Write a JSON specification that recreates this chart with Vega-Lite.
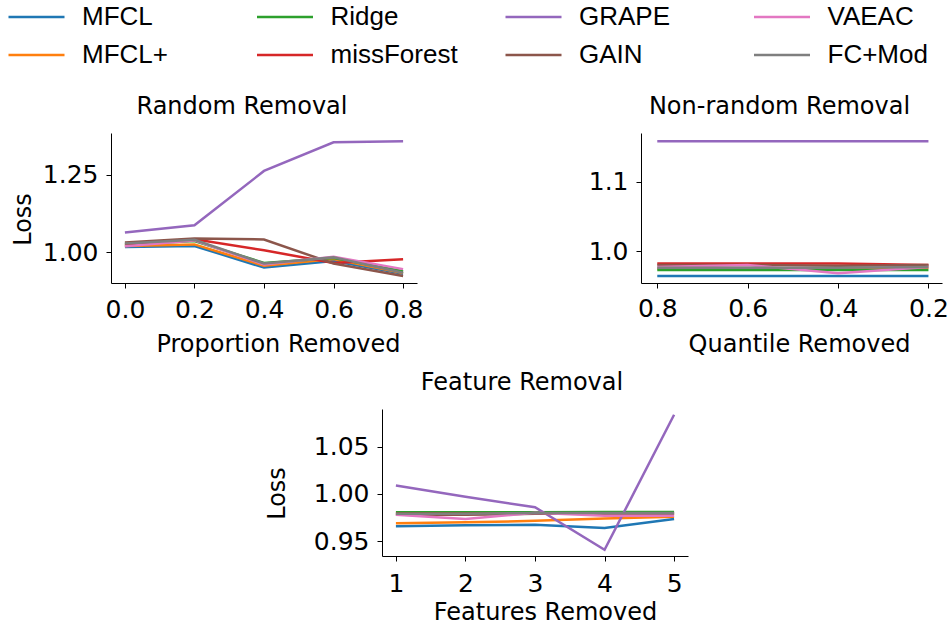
{
  "$schema": "https://vega.github.io/schema/vega-lite/v6.json",
  "padding": {"left": 7, "top": 4, "right": 0, "bottom": 0},
  "background": "white",
  "datasets": {
    "random": [
      {"method": "MFCL", "x": 0.0, "loss": 1.017}, {"method": "MFCL", "x": 0.2, "loss": 1.020}, {"method": "MFCL", "x": 0.4, "loss": 0.950}, {"method": "MFCL", "x": 0.6, "loss": 0.971}, {"method": "MFCL", "x": 0.8, "loss": 0.930},
      {"method": "MFCL+", "x": 0.0, "loss": 1.020}, {"method": "MFCL+", "x": 0.2, "loss": 1.025}, {"method": "MFCL+", "x": 0.4, "loss": 0.956}, {"method": "MFCL+", "x": 0.6, "loss": 0.978}, {"method": "MFCL+", "x": 0.8, "loss": 0.932},
      {"method": "Ridge", "x": 0.0, "loss": 1.025}, {"method": "Ridge", "x": 0.2, "loss": 1.036}, {"method": "Ridge", "x": 0.4, "loss": 0.965}, {"method": "Ridge", "x": 0.6, "loss": 0.981}, {"method": "Ridge", "x": 0.8, "loss": 0.938},
      {"method": "missForest", "x": 0.0, "loss": 1.024}, {"method": "missForest", "x": 0.2, "loss": 1.042}, {"method": "missForest", "x": 0.4, "loss": 1.006}, {"method": "missForest", "x": 0.6, "loss": 0.965}, {"method": "missForest", "x": 0.8, "loss": 0.977},
      {"method": "GRAPE", "x": 0.0, "loss": 1.064}, {"method": "GRAPE", "x": 0.2, "loss": 1.087}, {"method": "GRAPE", "x": 0.4, "loss": 1.263}, {"method": "GRAPE", "x": 0.6, "loss": 1.356}, {"method": "GRAPE", "x": 0.8, "loss": 1.359},
      {"method": "GAIN", "x": 0.0, "loss": 1.031}, {"method": "GAIN", "x": 0.2, "loss": 1.044}, {"method": "GAIN", "x": 0.4, "loss": 1.041}, {"method": "GAIN", "x": 0.6, "loss": 0.963}, {"method": "GAIN", "x": 0.8, "loss": 0.923},
      {"method": "VAEAC", "x": 0.0, "loss": 1.019}, {"method": "VAEAC", "x": 0.2, "loss": 1.038}, {"method": "VAEAC", "x": 0.4, "loss": 0.960}, {"method": "VAEAC", "x": 0.6, "loss": 0.985}, {"method": "VAEAC", "x": 0.8, "loss": 0.945},
      {"method": "FC+Mod", "x": 0.0, "loss": 1.028}, {"method": "FC+Mod", "x": 0.2, "loss": 1.040}, {"method": "FC+Mod", "x": 0.4, "loss": 0.963}, {"method": "FC+Mod", "x": 0.6, "loss": 0.983}, {"method": "FC+Mod", "x": 0.8, "loss": 0.933}
    ],
    "nonrandom": [
      {"method": "MFCL", "x": 0.8, "loss": 0.964}, {"method": "MFCL", "x": 0.6, "loss": 0.964}, {"method": "MFCL", "x": 0.4, "loss": 0.964}, {"method": "MFCL", "x": 0.2, "loss": 0.964},
      {"method": "MFCL+", "x": 0.8, "loss": 0.975}, {"method": "MFCL+", "x": 0.6, "loss": 0.975}, {"method": "MFCL+", "x": 0.4, "loss": 0.975}, {"method": "MFCL+", "x": 0.2, "loss": 0.976},
      {"method": "Ridge", "x": 0.8, "loss": 0.9726}, {"method": "Ridge", "x": 0.6, "loss": 0.9726}, {"method": "Ridge", "x": 0.4, "loss": 0.9726}, {"method": "Ridge", "x": 0.2, "loss": 0.9726},
      {"method": "missForest", "x": 0.8, "loss": 0.982}, {"method": "missForest", "x": 0.6, "loss": 0.982}, {"method": "missForest", "x": 0.4, "loss": 0.982}, {"method": "missForest", "x": 0.2, "loss": 0.980},
      {"method": "GRAPE", "x": 0.8, "loss": 1.158}, {"method": "GRAPE", "x": 0.6, "loss": 1.158}, {"method": "GRAPE", "x": 0.4, "loss": 1.158}, {"method": "GRAPE", "x": 0.2, "loss": 1.158},
      {"method": "GAIN", "x": 0.8, "loss": 0.980}, {"method": "GAIN", "x": 0.6, "loss": 0.980}, {"method": "GAIN", "x": 0.4, "loss": 0.979}, {"method": "GAIN", "x": 0.2, "loss": 0.980},
      {"method": "VAEAC", "x": 0.8, "loss": 0.977}, {"method": "VAEAC", "x": 0.6, "loss": 0.980}, {"method": "VAEAC", "x": 0.4, "loss": 0.968}, {"method": "VAEAC", "x": 0.2, "loss": 0.977},
      {"method": "FC+Mod", "x": 0.8, "loss": 0.976}, {"method": "FC+Mod", "x": 0.6, "loss": 0.976}, {"method": "FC+Mod", "x": 0.4, "loss": 0.976}, {"method": "FC+Mod", "x": 0.2, "loss": 0.977}
    ],
    "feature": [
      {"method": "MFCL", "x": 1, "loss": 0.966}, {"method": "MFCL", "x": 2, "loss": 0.967}, {"method": "MFCL", "x": 3, "loss": 0.9675}, {"method": "MFCL", "x": 4, "loss": 0.964}, {"method": "MFCL", "x": 5, "loss": 0.9736},
      {"method": "MFCL+", "x": 1, "loss": 0.969}, {"method": "MFCL+", "x": 2, "loss": 0.970}, {"method": "MFCL+", "x": 3, "loss": 0.9716}, {"method": "MFCL+", "x": 4, "loss": 0.974}, {"method": "MFCL+", "x": 5, "loss": 0.976},
      {"method": "Ridge", "x": 1, "loss": 0.9807}, {"method": "Ridge", "x": 2, "loss": 0.9807}, {"method": "Ridge", "x": 3, "loss": 0.9807}, {"method": "Ridge", "x": 4, "loss": 0.981}, {"method": "Ridge", "x": 5, "loss": 0.981},
      {"method": "missForest", "x": 1, "loss": 0.979}, {"method": "missForest", "x": 2, "loss": 0.979}, {"method": "missForest", "x": 3, "loss": 0.979}, {"method": "missForest", "x": 4, "loss": 0.979}, {"method": "missForest", "x": 5, "loss": 0.979},
      {"method": "GRAPE", "x": 1, "loss": 1.0088}, {"method": "GRAPE", "x": 2, "loss": 0.997}, {"method": "GRAPE", "x": 3, "loss": 0.986}, {"method": "GRAPE", "x": 4, "loss": 0.941}, {"method": "GRAPE", "x": 5, "loss": 1.0835},
      {"method": "GAIN", "x": 1, "loss": 0.978}, {"method": "GAIN", "x": 2, "loss": 0.978}, {"method": "GAIN", "x": 3, "loss": 0.979}, {"method": "GAIN", "x": 4, "loss": 0.979}, {"method": "GAIN", "x": 5, "loss": 0.979},
      {"method": "VAEAC", "x": 1, "loss": 0.978}, {"method": "VAEAC", "x": 2, "loss": 0.9736}, {"method": "VAEAC", "x": 3, "loss": 0.980}, {"method": "VAEAC", "x": 4, "loss": 0.977}, {"method": "VAEAC", "x": 5, "loss": 0.977},
      {"method": "FC+Mod", "x": 1, "loss": 0.979}, {"method": "FC+Mod", "x": 2, "loss": 0.979}, {"method": "FC+Mod", "x": 3, "loss": 0.980}, {"method": "FC+Mod", "x": 4, "loss": 0.980}, {"method": "FC+Mod", "x": 5, "loss": 0.980}
    ]
  },
  "config": {
    "view": {"stroke": null},
    "font": "DejaVu Sans",
    "axis": {
      "grid": false,
      "domainColor": "#000000",
      "domainWidth": 1,
      "tickColor": "#000000",
      "tickWidth": 1,
      "tickSize": 5,
      "labelColor": "#000000",
      "labelFont": "DejaVu Sans",
      "labelFontSize": 25,
      "titleColor": "#000000",
      "titleFont": "DejaVu Sans",
      "titleFontSize": 24,
      "titleFontWeight": "normal"
    },
    "axisY": {"labelPadding": 8},
    "title": {"font": "DejaVu Sans", "fontSize": 24, "fontWeight": "normal", "color": "#000000", "frame": "group", "baseline": "alphabetic", "offset": 14},
    "line": {"strokeWidth": 2.5}
  },
  "bounds": "flush",
  "spacing": 276,
  "vconcat": [
    {
      "bounds": "flush",
      "spacing": 224,
      "hconcat": [
        {
          "data": {"name": "random"},
          "width": 306,
          "height": 150,
          "title": {"text": "Random Removal", "dx": -22},
          "mark": {"type": "line"},
          "encoding": {
            "x": {"field": "x", "type": "quantitative",
              "scale": {"domain": [-0.04, 0.84], "nice": false, "zero": false},
              "axis": {"title": "Proportion Removed", "values": [0, 0.2, 0.4, 0.6, 0.8], "format": ".1f", "labelPadding": 9, "titleX": 167, "titleY": 68.7, "titleBaseline": "alphabetic"}},
            "y": {"field": "loss", "type": "quantitative",
              "scale": {"domain": [0.9, 1.386], "nice": false, "zero": false},
              "axis": {"title": "Loss", "values": [1.0, 1.25], "format": ".2f", "titleY": 86, "titleX": -81, "titleBaseline": "alphabetic"}},
            "color": {"field": "method", "type": "nominal",
              "scale": {"domain": ["MFCL", "MFCL+", "Ridge", "missForest", "GRAPE", "GAIN", "VAEAC", "FC+Mod"],
                        "range": ["#1f77b4", "#ff7f0e", "#2ca02c", "#d62728", "#9467bd", "#8c564b", "#e377c2", "#7f7f7f"]},
              "legend": {"title": null, "orient": "none", "legendX": -104, "legendY": -129, "columns": 4, "columnPadding": 45.5, "rowPadding": 12, "gridAlign": "all", "padding": 0,
                "symbolType": "stroke", "symbolSize": 3136, "symbolStrokeWidth": 2.5, "labelFont": "Liberation Sans", "labelFontSize": 26, "labelColor": "#000000", "labelOffset": 16, "clipHeight": 26}}
          }
        },
        {
          "data": {"name": "nonrandom"},
          "width": 301,
          "height": 150,
          "title": {"text": "Non-random Removal", "dx": -12},
          "mark": {"type": "line"},
          "encoding": {
            "x": {"field": "x", "type": "quantitative",
              "scale": {"domain": [0.17, 0.836], "nice": false, "zero": false, "reverse": true},
              "axis": {"title": "Quantile Removed", "values": [0.8, 0.6, 0.4, 0.2], "format": ".1f", "labelPadding": 8, "titleX": 158, "titleY": 68, "titleBaseline": "alphabetic"}},
            "y": {"field": "loss", "type": "quantitative",
              "scale": {"domain": [0.954, 1.17], "nice": false, "zero": false},
              "axis": {"title": null, "values": [1.0, 1.1], "format": ".1f"}},
            "color": {"field": "method", "type": "nominal",
              "scale": {"domain": ["MFCL", "MFCL+", "Ridge", "missForest", "GRAPE", "GAIN", "VAEAC", "FC+Mod"],
                        "range": ["#1f77b4", "#ff7f0e", "#2ca02c", "#d62728", "#9467bd", "#8c564b", "#e377c2", "#7f7f7f"]},
              "legend": {"title": null, "orient": "none", "legendX": -104, "legendY": -129, "columns": 4, "columnPadding": 45.5, "rowPadding": 12, "gridAlign": "all", "padding": 0,
                "symbolType": "stroke", "symbolSize": 3136, "symbolStrokeWidth": 2.5, "labelFont": "Liberation Sans", "labelFontSize": 26, "labelColor": "#000000", "labelOffset": 16, "clipHeight": 26}}
          }
        }
      ]
    },
    {
      "bounds": "flush",
      "spacing": 270,
      "hconcat": [
        {
          "data": {"values": [{}]},
          "width": 1,
          "height": 1,
          "mark": {"type": "text", "text": ""}
        },
        {
          "data": {"name": "feature"},
          "width": 306,
          "height": 147,
          "title": {"text": "Feature Removal", "dx": -13},
          "mark": {"type": "line"},
          "encoding": {
            "x": {"field": "x", "type": "quantitative",
              "scale": {"domain": [0.8, 5.2], "nice": false, "zero": false},
              "axis": {"title": "Features Removed", "values": [1, 2, 3, 4, 5], "format": "d", "labelPadding": 10, "titleX": 163, "titleY": 63.5, "titleBaseline": "alphabetic"}},
            "y": {"field": "loss", "type": "quantitative",
              "scale": {"domain": [0.9345, 1.0896], "nice": false, "zero": false},
              "axis": {"title": "Loss", "values": [0.95, 1.0, 1.05], "format": ".2f", "titleY": 84, "titleX": -98, "titleBaseline": "alphabetic"}},
            "color": {"field": "method", "type": "nominal",
              "scale": {"domain": ["MFCL", "MFCL+", "Ridge", "missForest", "GRAPE", "GAIN", "VAEAC", "FC+Mod"],
                        "range": ["#1f77b4", "#ff7f0e", "#2ca02c", "#d62728", "#9467bd", "#8c564b", "#e377c2", "#7f7f7f"]},
              "legend": {"title": null, "orient": "none", "legendX": -104, "legendY": -129, "columns": 4, "columnPadding": 45.5, "rowPadding": 12, "gridAlign": "all", "padding": 0,
                "symbolType": "stroke", "symbolSize": 3136, "symbolStrokeWidth": 2.5, "labelFont": "Liberation Sans", "labelFontSize": 26, "labelColor": "#000000", "labelOffset": 16, "clipHeight": 26}}
          }
        }
      ]
    }
  ]
}
